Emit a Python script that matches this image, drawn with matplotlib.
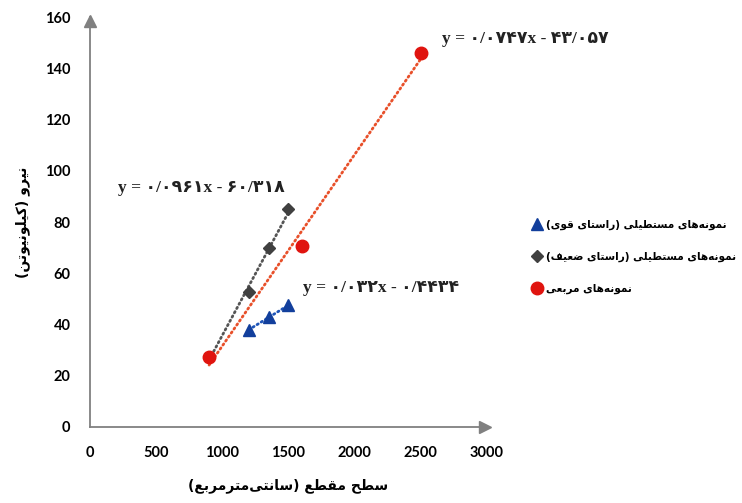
import matplotlib.pyplot as plt
import numpy as np

# data
strong_x = [1200, 1350, 1500]
strong_y = [38, 42.8, 47.5]
weak_x = [900, 1200, 1350, 1500]
weak_y = [27.5, 52.5, 70, 85]
square_x = [900, 1600, 2500]
square_y = [27.5, 70.5, 146]

# trendline coefficients as printed on the chart (slope, intercept)
strong_fit = [0.032, -0.4434]
weak_fit = [0.0961, -60.318]
square_fit = [0.0747, -43.057]
strong_eq = "y = ۰/۰۳۲x - ۰/۴۴۳۴"
weak_eq = "y = ۰/۰۹۶۱x - ۶۰/۳۱۸"
square_eq = "y = ۰/۰۷۴۷x - ۴۳/۰۵۷"

labels = ["نمونه‌های مستطیلی (راستای قوی)",
          "نمونه‌های مستطیلی (راستای ضعیف)",
          "نمونه‌های مربعی"]
xlabel = "سطح مقطع (سانتی‌مترمربع)"
ylabel = "نیرو (کیلونیوتن)"
xticks = [0, 500, 1000, 1500, 2000, 2500, 3000]
yticks = [0, 20, 40, 60, 80, 100, 120, 140, 160]


# matplotlib has no arabic shaping, do it by hand with presentation forms
forms = {
    'ا': (0xFE8D, 0xFE8E), 'ر': (0xFEAD, 0xFEAE), 'و': (0xFEED, 0xFEEE),
    'ب': (0xFE8F, 0xFE90, 0xFE91, 0xFE92), 'ت': (0xFE95, 0xFE96, 0xFE97, 0xFE98),
    'ح': (0xFEA1, 0xFEA2, 0xFEA3, 0xFEA4), 'س': (0xFEB1, 0xFEB2, 0xFEB3, 0xFEB4),
    'ض': (0xFEBD, 0xFEBE, 0xFEBF, 0xFEC0), 'ط': (0xFEC1, 0xFEC2, 0xFEC3, 0xFEC4),
    'ع': (0xFEC9, 0xFECA, 0xFECB, 0xFECC), 'ف': (0xFED1, 0xFED2, 0xFED3, 0xFED4),
    'ق': (0xFED5, 0xFED6, 0xFED7, 0xFED8), 'ل': (0xFEDD, 0xFEDE, 0xFEDF, 0xFEE0),
    'م': (0xFEE1, 0xFEE2, 0xFEE3, 0xFEE4), 'ن': (0xFEE5, 0xFEE6, 0xFEE7, 0xFEE8),
    'ه': (0xFEE9, 0xFEEA, 0xFEEB, 0xFEEC), 'ی': (0xFBFC, 0xFBFD, 0xFBFE, 0xFBFF),
    'ک': (0xFB8E, 0xFB8F, 0xFB90, 0xFB91),
}


def shape(s):
    out = []
    for i, c in enumerate(s):
        if c == '\u200c':
            continue
        if c not in forms:
            out.append(c)
            continue
        f = forms[c]
        prev = s[i - 1] if i > 0 else ''
        nxt = s[i + 1] if i + 1 < len(s) else ''
        pj = prev in forms and len(forms[prev]) == 4
        nj = len(f) == 4 and nxt in forms
        if pj and nj:
            out.append(chr(f[3]))
        elif pj:
            out.append(chr(f[1]))
        elif nj:
            out.append(chr(f[2]))
        else:
            out.append(chr(f[0]))
    vis = ''.join(reversed(out))
    return vis.translate(str.maketrans('()', ')('))


fig = plt.figure(figsize=(7.42, 5.03), dpi=100)
ax = fig.add_axes([0.1213, 0.1511, 0.535, 0.815])

blue = '#123f9c'
gray = '#404040'
red = '#e0140f'

# trend lines
for xs, fit, col in [(strong_x, strong_fit, '#1f55b8'),
                     (weak_x, weak_fit, '#555555'),
                     (square_x, square_fit, '#e8502a')]:
    xx = np.array([min(xs), max(xs)])
    ax.plot(xx, fit[0] * xx + fit[1], linestyle=(0, (0.5, 1.25)), color=col,
            lw=2.0, dash_capstyle='round', zorder=2)

ax.plot(strong_x, strong_y, '^', color=blue, ms=8.5, ls='none',
        label=shape(labels[0]), zorder=3)
ax.plot(weak_x, weak_y, 'D', color=gray, ms=6, ls='none',
        label=shape(labels[1]), zorder=3)
ax.plot(square_x, square_y, 'o', color=red, ms=9, ls='none',
        label=shape(labels[2]), zorder=4)

eq_font = dict(family=['Liberation Serif', 'DejaVu Sans'], fontsize=12.5,
               fontweight='bold', color='#222222', va='center')
ax.text(2660, 151.3, square_eq, **eq_font)
ax.text(215, 93.3, weak_eq, **eq_font)
ax.text(1610, 54.3, strong_eq, **eq_font)

ax.set_xlim(0, 3000)
ax.set_ylim(0, 160)
ax.set_xticks(xticks)
ax.set_yticks(yticks)
ax.tick_params(length=0, labelsize=10.5)
ax.tick_params(axis='x', pad=14)
ax.tick_params(axis='y', pad=14)
for t in ax.get_xticklabels() + ax.get_yticklabels():
    t.set_fontweight('bold')
    t.set_family('Lato')

for side in ['top', 'right']:
    ax.spines[side].set_visible(False)
for side in ['left', 'bottom']:
    ax.spines[side].set_color('#808080')
    ax.spines[side].set_linewidth(1.3)
ax.plot(0.995, 0, '>', color='#808080', ms=8, transform=ax.transAxes, clip_on=False)
ax.plot(0, 0.99, '^', color='#808080', ms=8, transform=ax.transAxes, clip_on=False)

ax.set_xlabel(shape(xlabel), fontsize=10, fontweight='bold')
ax.set_ylabel(shape(ylabel), fontsize=10, fontweight='bold')
ax.xaxis.set_label_coords(0.5, -0.125)
ax.yaxis.set_label_coords(-0.15, 0.5)

ax.legend(loc='center left', bbox_to_anchor=(1.1, 0.415), frameon=False,
          prop=dict(size=7.6, weight='bold'), labelspacing=2.1,
          handletextpad=0.3, handlelength=1.0, borderpad=0)

fig.savefig('out.png', dpi=100)
